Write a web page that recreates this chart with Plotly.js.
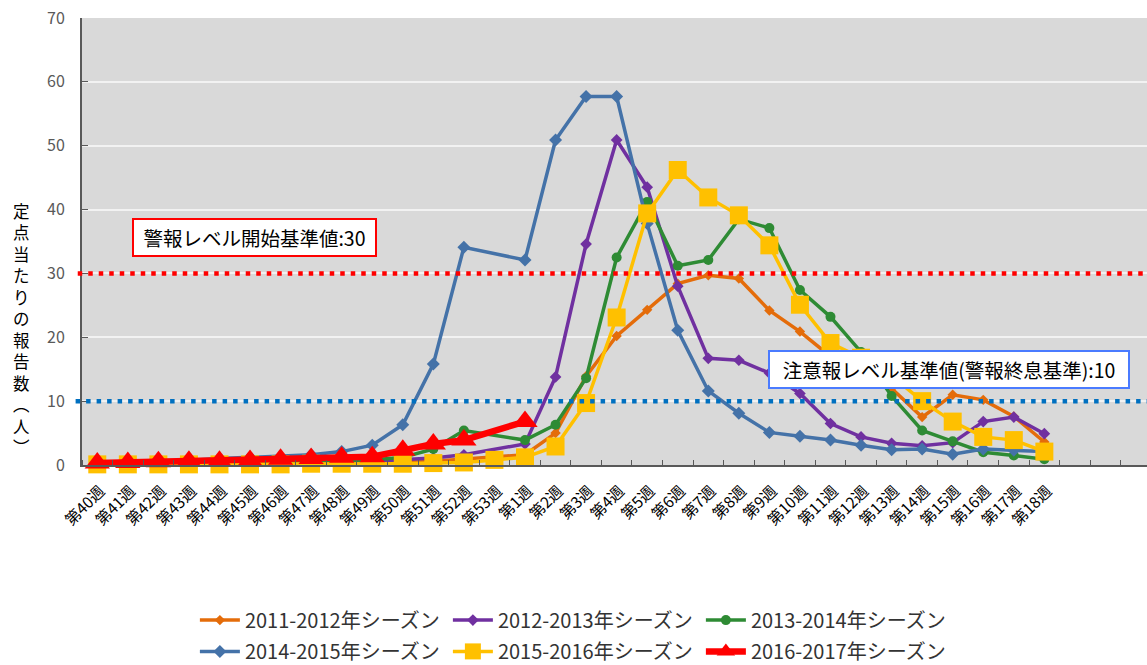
<!DOCTYPE html>
<html><head><meta charset="utf-8">
<script src="https://cdn.plot.ly/plotly-3.0.1.min.js"></script>
<style>html,body{margin:0;padding:0;background:#fff}#chart{width:1147px;height:665px}</style>
</head><body><div id="chart"></div>
<script>
const weeks = ['第40週','第41週','第42週','第43週','第44週','第45週','第46週','第47週','第48週','第49週','第50週','第51週','第52週','第53週',
  '第1週','第2週','第3週','第4週','第5週','第6週','第7週','第8週','第9週','第10週','第11週','第12週','第13週','第14週','第15週','第16週','第17週','第18週'];

const seasonNames = ['2011-2012年シーズン','2012-2013年シーズン','2013-2014年シーズン','2014-2015年シーズン','2015-2016年シーズン','2016-2017年シーズン'];

const s2011 = [0.2,0.2,0.2,0.3,0.3,0.3,0.3,0.3,0.4,0.4,0.5,0.6,0.9,null,1.6,5.0,13.9,20.2,24.3,28.4,29.7,29.2,24.2,20.9,17.0,14.5,12.0,7.5,11.0,10.2,7.6,3.6];
const s2012 = [0.2,0.2,0.2,0.3,0.3,0.3,0.4,0.4,0.5,0.6,0.8,1.1,1.6,null,3.3,13.8,34.6,50.9,43.5,28.0,16.7,16.4,14.4,11.2,6.5,4.4,3.4,3.0,3.5,6.8,7.5,4.9];
const s2013 = [0.1,0.1,0.1,0.2,0.2,0.2,0.3,0.4,0.5,0.8,1.2,2.5,5.4,null,3.9,6.3,13.6,32.5,41.2,31.2,32.1,38.5,37.1,27.4,23.2,17.7,10.8,5.4,3.7,2.0,1.5,0.9];
const s2014 = [0.3,0.4,0.5,0.7,1.0,1.2,1.3,1.6,2.1,3.1,6.3,15.8,34.1,null,32.1,50.9,57.7,57.7,37.8,21.1,11.6,8.1,5.1,4.5,3.9,3.1,2.4,2.5,1.7,2.5,2.3,2.1];
const s2015 = [0.1,0.1,0.1,0.1,0.1,0.1,0.1,0.2,0.2,0.2,0.2,0.3,0.4,0.8,1.2,2.9,9.7,23.1,39.4,46.2,41.9,39.1,34.4,25.1,19.1,16.8,14.0,10.0,6.8,4.4,3.9,2.1];
const s2016 = [0.3,0.4,0.5,0.6,0.6,0.7,0.9,1.0,1.2,1.3,2.3,3.3,3.9,null,6.8,null,null,null,null,null,null,null,null,null,null,null,null,null,null,null,null,null];

const alertLevel = 30;   // 警報レベル開始基準値
const warnLevel = 10;    // 注意報レベル基準値

const yTitle = '定点当たりの報告数(人)';
const alertText = '警報レベル開始基準値:30';
const warnText = '注意報レベル基準値(警報終息基準):10';

const xIdx = weeks.map((w, i) => i);
const FONT = '"Noto Sans CJK JP", "Noto Sans", sans-serif';

function series(y, name, color, symbol, msize, lw, legend) {
  return {
    x: xIdx, y: y, name: name, type: 'scatter', mode: 'lines+markers',
    connectgaps: true, cliponaxis: false, legend: legend,
    line: {color: color, width: lw},
    marker: {color: color, symbol: symbol, size: msize, line: {width: 0}},
    hoverinfo: 'skip'
  };
}

const traces = [
  series(s2011, seasonNames[0], '#e46c0a', 'diamond', 8, 3.5, 'legend'),
  series(s2012, seasonNames[1], '#7030a0', 'diamond', 9, 3.5, 'legend'),
  series(s2013, seasonNames[2], '#2e8b34', 'circle', 10, 3.5, 'legend'),
  series(s2014, seasonNames[3], '#4472a8', 'diamond', 10, 3.5, 'legend2'),
  series(s2015, seasonNames[4], '#ffc000', 'square', 18, 3.5, 'legend2'),
  series(s2016, seasonNames[5], '#ff0000', 'triangle-up', 22, 6.5, 'legend2')
];

// vertical (stacked) y-axis title
const vChars = Array.from(yTitle).map(c => c === '(' ? '︵' : (c === ')' ? '︶' : c));

const legendCommon = {
  orientation: 'h', xanchor: 'left', yanchor: 'middle',
  font: {size: 20, color: '#333', family: FONT},
  itemwidth: 40, entrywidth: 198, entrywidthmode: 'pixels',
  bgcolor: 'rgba(0,0,0,0)', traceorder: 'normal'
};

const layout = {
  width: 1147, height: 665,
  margin: {l: 82, r: 0, t: 18, b: 200, autoexpand: false},
  paper_bgcolor: '#ffffff',
  plot_bgcolor: '#d9d9d9',
  font: {family: FONT, color: '#000'},
  showlegend: true,
  xaxis: {
    range: [-0.5, 34.36],
    tickmode: 'array', tickvals: xIdx, ticktext: weeks,
    tickangle: -45, ticks: '',
    tickfont: {size: 15.5, color: '#000', family: FONT},
    ticklabelstandoff: 9, ticklabelshift: 3,
    showgrid: false, zeroline: false, automargin: false,
    showline: true, linecolor: '#595959', linewidth: 2,
    minor: {tick0: -0.5, dtick: 1, ticks: 'inside', ticklen: 5, tickwidth: 1, tickcolor: '#595959', showgrid: false},
    fixedrange: true
  },
  yaxis: {
    range: [0, 70], dtick: 10, tick0: 0,
    ticks: 'inside', ticklen: 6, tickwidth: 1, tickcolor: '#595959',
    tickfont: {size: 16, color: '#595959', family: FONT},
    ticklabelstandoff: 12, automargin: false,
    showgrid: true, gridcolor: '#f2f2f2', gridwidth: 2,
    zeroline: false,
    showline: true, linecolor: '#595959', linewidth: 2,
    fixedrange: true
  },
  legend: Object.assign({}, legendCommon, {x: 0.106, y: -0.347}),
  legend2: Object.assign({}, legendCommon, {x: 0.106, y: -0.417}),
  shapes: [
    {type: 'line', layer: 'above', xref: 'paper', x0: -0.004, x1: 1, yref: 'y', y0: alertLevel, y1: alertLevel,
      line: {color: '#ff0000', width: 4.5, dash: '4.5px,6px'}},
    {type: 'line', layer: 'above', xref: 'paper', x0: -0.006, x1: 1, yref: 'y', y0: warnLevel, y1: warnLevel,
      line: {color: '#0070c0', width: 4.5, dash: '4.5px,6px'}}
  ],
  annotations: [
    {xref: 'paper', yref: 'paper', x: 0.162, y: 0.509, xanchor: 'center', yanchor: 'middle',
      text: alertText, showarrow: false, font: {size: 19.5, color: '#000', family: FONT},
      bgcolor: '#ffffff', bordercolor: '#ff0000', borderwidth: 2, borderpad: 0, width: 241, height: 35},
    {xref: 'paper', yref: 'paper', x: 0.814, y: 0.2136, xanchor: 'center', yanchor: 'middle',
      text: warnText, showarrow: false, font: {size: 19.5, color: '#000', family: FONT},
      bgcolor: '#ffffff', bordercolor: '#4a7bff', borderwidth: 2, borderpad: 0, width: 358, height: 35},
    {xref: 'paper', yref: 'paper', x: -0.0568, y: 0.305, xanchor: 'center', yanchor: 'middle',
      text: vChars.join('<br>'), showarrow: false, font: {size: 16.5, color: '#000', family: FONT}}
  ]
};

Plotly.newPlot('chart', traces, layout, {displayModeBar: false, staticPlot: true});
</script>
</body></html>
